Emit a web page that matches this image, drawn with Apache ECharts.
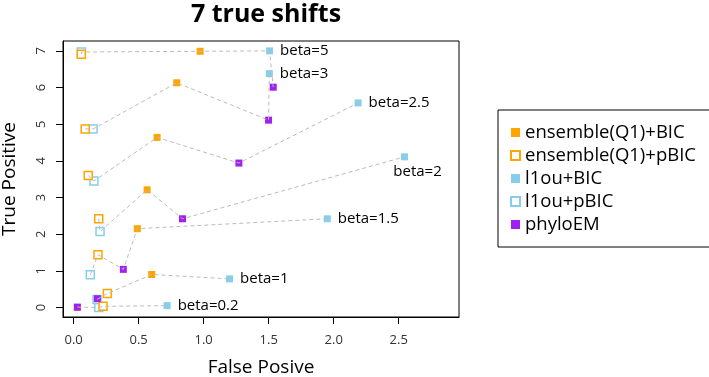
<!DOCTYPE html>
<html>
<head>
<meta charset="utf-8">
<script src="https://cdn.jsdelivr.net/npm/echarts@6/dist/echarts.min.js"></script>
<style>
    html, body { margin: 0; padding: 0; background: #fff; }
    #chart { width: 709px; height: 377px; }
</style>
</head>
<body>
<div id="chart"></div>
<script>
// one entry per beta value, same order in every array
var betas = ['beta=0.2', 'beta=1', 'beta=1.5', 'beta=2', 'beta=2.5', 'beta=3', 'beta=5'];

var ensBicFP = [0.03, 0.60, 0.49, 0.565, 0.642, 0.793, 0.973];
var ensBicTP = [0.00, 0.90, 2.15, 3.21, 4.64, 6.13, 6.99];
var ensPbicFP = [0.226, 0.259, 0.187, 0.193, 0.112, 0.089, 0.059];
var ensPbicTP = [0.03, 0.38, 1.44, 2.42, 3.60, 4.87, 6.91];
var l1ouBicFP = [0.719, 1.199, 1.951, 2.545, 2.188, 1.505, 1.507];
var l1ouBicTP = [0.05, 0.78, 2.42, 4.11, 5.58, 6.38, 7.00];
var l1ouPbicFP = [0.193, 0.18, 0.128, 0.203, 0.156, 0.149, 0.059];
var l1ouPbicTP = [0.00, 0.22, 0.89, 2.07, 3.45, 4.87, 6.97];
var phyloFP = [0.028, 0.182, 0.382, 0.837, 1.271, 1.499, 1.535];
var phyloTP = [0.01, 0.24, 1.04, 2.42, 3.94, 5.11, 6.01];

var xTicks = [0, 0.5, 1, 1.5, 2, 2.5];
var yTicks = [0, 1, 2, 3, 4, 5, 6, 7];

var orange = '#FFA500';
var skyblue = '#87CEEB';
var purple = '#A020F0';
var font = '"Open Sans", "Noto Sans", sans-serif';

// z: l1ou+pBIC sits underneath the others where they overlap
var methods = [
    {name: 'ensemble(Q1)+BIC', fp: ensBicFP, tp: ensBicTP, open: false, color: orange, z: 2},
    {name: 'ensemble(Q1)+pBIC', fp: ensPbicFP, tp: ensPbicTP, open: true, color: orange, z: 2},
    {name: 'l1ou+BIC', fp: l1ouBicFP, tp: l1ouBicTP, open: false, color: skyblue, z: 2},
    {name: 'l1ou+pBIC', fp: l1ouPbicFP, tp: l1ouPbicTP, open: true, color: skyblue, z: 1},
    {name: 'phyloEM', fp: phyloFP, tp: phyloTP, open: false, color: purple, z: 2}
];

// where each beta label sits next to its l1ou+BIC point
var labelPlace = {
    'beta=2': {position: 'bottom', distance: 4, offset: [13, 0]}
};

function zip(xs, ys) {
    return xs.map(function(x, i) {
        return [x, ys[i]];
    });
}

var chart = echarts.init(document.getElementById('chart'));
var series = [];

// dashed grey connectors: points of each beta joined in order of false positives
betas.forEach(function(b, i) {
    var pts = methods.map(function(m) {
        return [m.fp[i], m.tp[i]];
    });
    pts.sort(function(a, b) { return a[0] - b[0]; });
    series.push({
        type: 'line',
        data: pts,
        symbol: 'none',
        silent: true,
        z: 3,
        lineStyle: {color: '#BBBBBB', width: 1, type: [4, 3]}
    });
});

methods.forEach(function(m) {
    var s = {
        name: m.name,
        type: 'scatter',
        symbol: 'rect',
        symbolSize: m.open ? 8 : 7,
        z: m.z,
        itemStyle: m.open
            ? {color: '#fff', borderColor: m.color, borderWidth: 1.5, opacity: 1}
            : {color: m.color, opacity: 1},
        data: zip(m.fp, m.tp)
    };
    if (m.name === 'l1ou+BIC') {
        s.data = s.data.map(function(p, i) {
            var place = labelPlace[betas[i]] || {position: 'right', distance: 7};
            return {
                value: p,
                label: Object.assign({
                    show: true,
                    formatter: betas[i],
                    color: '#000',
                    fontSize: 15,
                    fontFamily: font
                }, place)
            };
        });
    }
    series.push(s);
});

var option = {
    animation: false,
    title: {
        text: '7 true shifts',
        left: 261,
        textAlign: 'center',
        top: -3,
        textStyle: {fontSize: 25, fontWeight: 'bold', color: '#000', fontFamily: font}
    },
    legend: {
        orient: 'vertical',
        left: 498,
        top: 110,
        padding: [11, 16, 11, 12],
        itemGap: 0,
        itemWidth: 9,
        itemHeight: 9,
        itemTextGap: 12,
        borderColor: '#000',
        borderWidth: 1,
        textStyle: {fontSize: 18.5, lineHeight: 23, color: '#000', fontFamily: font},
        data: methods.map(function(m) { return m.name; })
    },
    grid: {
        left: 63,
        top: 41,
        right: 250,
        bottom: 60,
        outerBoundsMode: 'none',
        containLabel: false,
        show: true,
        borderColor: '#000',
        borderWidth: 1
    },
    xAxis: {
        type: 'value',
        min: -0.082,
        max: 2.964,
        name: 'False Posive',
        nameLocation: 'middle',
        nameGap: 41,
        nameTextStyle: {fontSize: 19, color: '#000', fontFamily: font},
        axisLine: {show: true, onZero: false, lineStyle: {color: '#000'}},
        axisTick: {show: true, length: 7, customValues: xTicks, lineStyle: {color: '#000'}},
        axisLabel: {
            customValues: xTicks,
            margin: 17,
            fontSize: 13,
            color: '#333',
            fontFamily: font,
            formatter: function(v) { return v.toFixed(1); }
        },
        splitLine: {show: false}
    },
    yAxis: {
        type: 'value',
        min: -0.26,
        max: 7.27,
        name: 'True Positive',
        nameLocation: 'middle',
        nameGap: 44,
        nameTextStyle: {fontSize: 19, color: '#000', fontFamily: font},
        axisLine: {show: true, onZero: false, lineStyle: {color: '#000'}},
        axisTick: {show: true, length: 7, customValues: yTicks, lineStyle: {color: '#000'}},
        axisLabel: {
            customValues: yTicks,
            rotate: 90,
            margin: 15,
            fontSize: 13,
            color: '#333',
            fontFamily: font
        },
        splitLine: {show: false}
    },
    series: series
};

chart.setOption(option);
</script>
</body>
</html>
